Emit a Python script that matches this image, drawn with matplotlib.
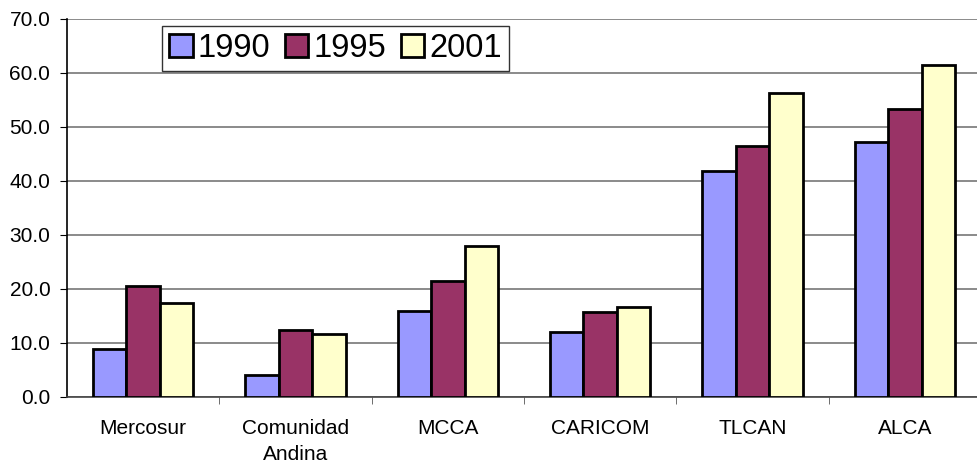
import numpy as np
import matplotlib.pyplot as plt

plt.rcParams['font.family'] = ['Liberation Sans', 'DejaVu Sans']

# datos
bloques = ['Mercosur', 'Comunidad\nAndina', 'MCCA', 'CARICOM', 'TLCAN', 'ALCA']
v1990 = [8.8, 4.1, 15.9, 12.1, 41.8, 47.1]
v1995 = [20.5, 12.3, 21.4, 15.7, 46.5, 53.2]
v2001 = [17.3, 11.6, 27.9, 16.6, 56.2, 61.4]
anios = ['1990', '1995', '2001']
colores = ['#9999FF', '#993366', '#FFFFCC']

fig = plt.figure(figsize=(9.77, 4.70), dpi=100)
ax = fig.add_axes([67/977, 73/470, 914/977, 378.5/470])

x = np.arange(len(bloques))
w = 0.22
for i, (vals, lab) in enumerate(zip([v1990, v1995, v2001], anios)):
    ax.bar(x + (i - 1) * w, vals, w, color=colores[i], edgecolor='black',
           linewidth=2.0, label=lab, zorder=3)

ax.set_xlim(-0.5, len(bloques) - 0.5)
ax.set_ylim(0, 70)
ax.set_yticks(np.arange(0, 71, 10))
ax.set_yticklabels(['%.1f' % v for v in np.arange(0, 71, 10)], fontsize=15)
ax.set_xticks(x)
ax.set_xticklabels(bloques, fontsize=15, linespacing=1.45)
ax.set_xticks(np.arange(0.5, len(bloques) - 0.5, 1), minor=True)
ax.tick_params(axis='x', which='major', length=0, pad=16)
ax.tick_params(axis='x', which='minor', length=5, color='#555555')
ax.tick_params(axis='y', length=5, color='black', pad=7)
ax.yaxis.grid(True, color='#777777', linewidth=1.2, zorder=0)
for s in ['top', 'right']:
    ax.spines[s].set_visible(False)
ax.spines['left'].set_linewidth(1.2)
ax.spines['bottom'].set_linewidth(1.2)
ax.spines['bottom'].set_color('#444444')

leg = ax.legend(loc='upper left', bbox_to_anchor=(162/977, 1 - 25.7/470),
                bbox_transform=fig.transFigure, ncol=3, fontsize=23.5,
                frameon=True, fancybox=False, edgecolor='black',
                handlelength=0.72, handleheight=0.72, handletextpad=0.15,
                columnspacing=0.45, borderpad=0.22, borderaxespad=0)
leg.get_frame().set_linewidth(1.0)

fig.savefig('out.png', dpi=100)
